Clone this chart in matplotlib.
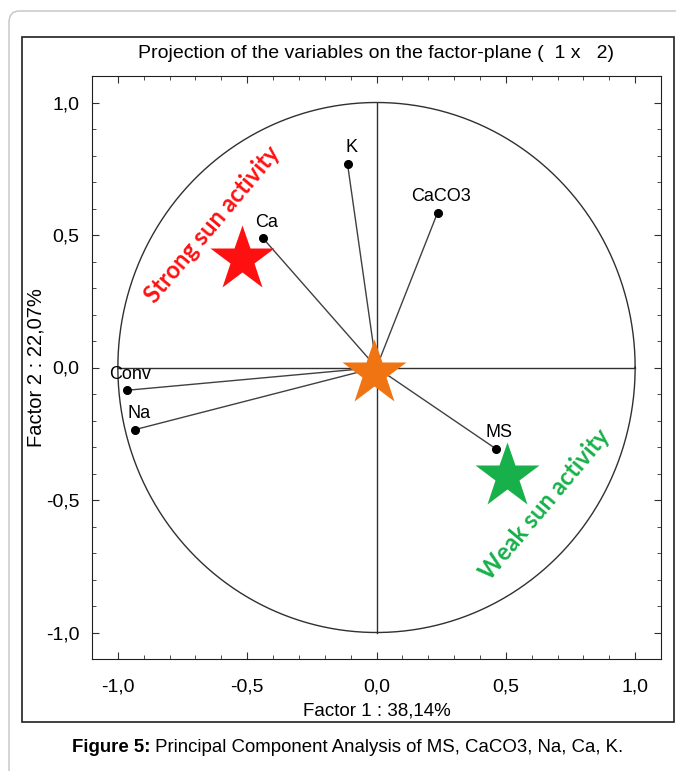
import numpy as np
import matplotlib.pyplot as plt
from matplotlib.patches import FancyBboxPatch, Rectangle
from matplotlib.ticker import MultipleLocator, FuncFormatter

plt.rcParams['font.family'] = ['Liberation Sans', 'DejaVu Sans']

# --- data: variable coordinates on factor plane --- #
variables = ['K', 'CaCO3', 'Ca', 'Conv', 'Na', 'MS']
factor1 = [-0.112, 0.236, -0.439, -0.965, -0.932, 0.462]
factor2 = [0.768, 0.584, 0.488, -0.086, -0.234, -0.307]

# stars marking the activity groups + origin
star_x = [-0.52, -0.01, 0.505]
star_y = [0.41, -0.02, -0.41]
star_colors = ['#ff1010', '#f07412', '#17b04a']

fig = plt.figure(figsize=(6.76, 7.71), dpi=100)

# outer light border and inner black frame
fig.patches.append(FancyBboxPatch((9 / 676, -0.05), 1.2, 1 - 11 / 771 + 0.05,
                                  boxstyle='round,pad=0,rounding_size=0.015',
                                  transform=fig.transFigure, fill=False,
                                  edgecolor='#c4c4c4', linewidth=1.0))
fig.patches.append(Rectangle((21.5 / 676, 1 - 722 / 771), (674 - 21.5) / 676,
                             (722 - 37) / 771, transform=fig.transFigure,
                             fill=False, edgecolor='#202020', linewidth=1.2))

ax = fig.add_axes([92 / 676, 1 - 659 / 771, (661 - 92) / 676, (659 - 76) / 771])
ax.set_xlim(-1.1, 1.1)
ax.set_ylim(-1.1, 1.1)

# unit circle and axes cross
t = np.linspace(0, 2 * np.pi, 400)
ax.plot(np.cos(t), np.sin(t), color='#303030', lw=1.0)
ax.plot([-1, 1], [0, 0], color='#303030', lw=1.0)
ax.plot([0, 0], [-1, 1], color='#303030', lw=1.0)

for name, x, y in zip(variables, factor1, factor2):
    ax.plot([0, x], [0, y], color='#404040', lw=1.0)
    ax.annotate(name, (x, y), xytext=(2.5, 5.5), textcoords='offset points',
                ha='center', va='bottom', fontsize=13)
ax.plot(factor1, factor2, 'o', color='black', ms=5.5, zorder=4)

for sx, sy, c in zip(star_x, star_y, star_colors):
    ax.plot(sx, sy, marker='*', color=c, ms=49, mec='none', zorder=5)

ax.text(-0.635, 0.54, 'Strong sun activity', rotation=50, color='#ff1010',
        fontsize=17, fontweight='bold', family=['Lato', 'DejaVu Sans'],
        ha='center', va='center', rotation_mode='anchor')
ax.text(0.652, -0.515, 'Weak sun activity', rotation=50, color='#17b04a',
        fontsize=17, fontweight='bold', family=['Lato', 'DejaVu Sans'],
        ha='center', va='center', rotation_mode='anchor')

# ticks
ax.xaxis.set_major_locator(MultipleLocator(0.5))
ax.yaxis.set_major_locator(MultipleLocator(0.5))
ax.xaxis.set_minor_locator(MultipleLocator(0.1))
ax.yaxis.set_minor_locator(MultipleLocator(0.1))
fmt = FuncFormatter(lambda v, p: ('%.1f' % v).replace('.', ','))
ax.xaxis.set_major_formatter(fmt)
ax.yaxis.set_major_formatter(fmt)
ax.tick_params(which='both', direction='in', top=True, right=True,
               labelsize=14, color='#303030')
ax.tick_params(axis='x', which='major', length=5, pad=14)
ax.tick_params(axis='y', which='major', length=5, pad=9)
ax.tick_params(which='minor', length=3)
for s in ax.spines.values():
    s.set_color('#202020')

ax.set_xlabel('Factor 1 : 38,14%', fontsize=13.5, labelpad=5)
ax.set_ylabel('Factor 2 : 22,07%', fontsize=14.5)
ax.yaxis.set_label_coords((46 - 92) / 569, 0.5)
ax.set_title('Projection of the variables on the factor-plane (  1 x   2)',
             fontsize=14, pad=13)

# caption with bold lead-in
cap = fig.text(72 / 676, 1 - 748 / 771, 'Figure 5:', fontsize=13.4, fontweight='bold',
               ha='left', va='center')
ax.annotate(' Principal Component Analysis of MS, CaCO3, Na, Ca, K.',
            xy=(1, 0.5), xycoords=cap, ha='left', va='center', fontsize=13.4,
            annotation_clip=False)

fig.savefig('out.png', dpi=100)
